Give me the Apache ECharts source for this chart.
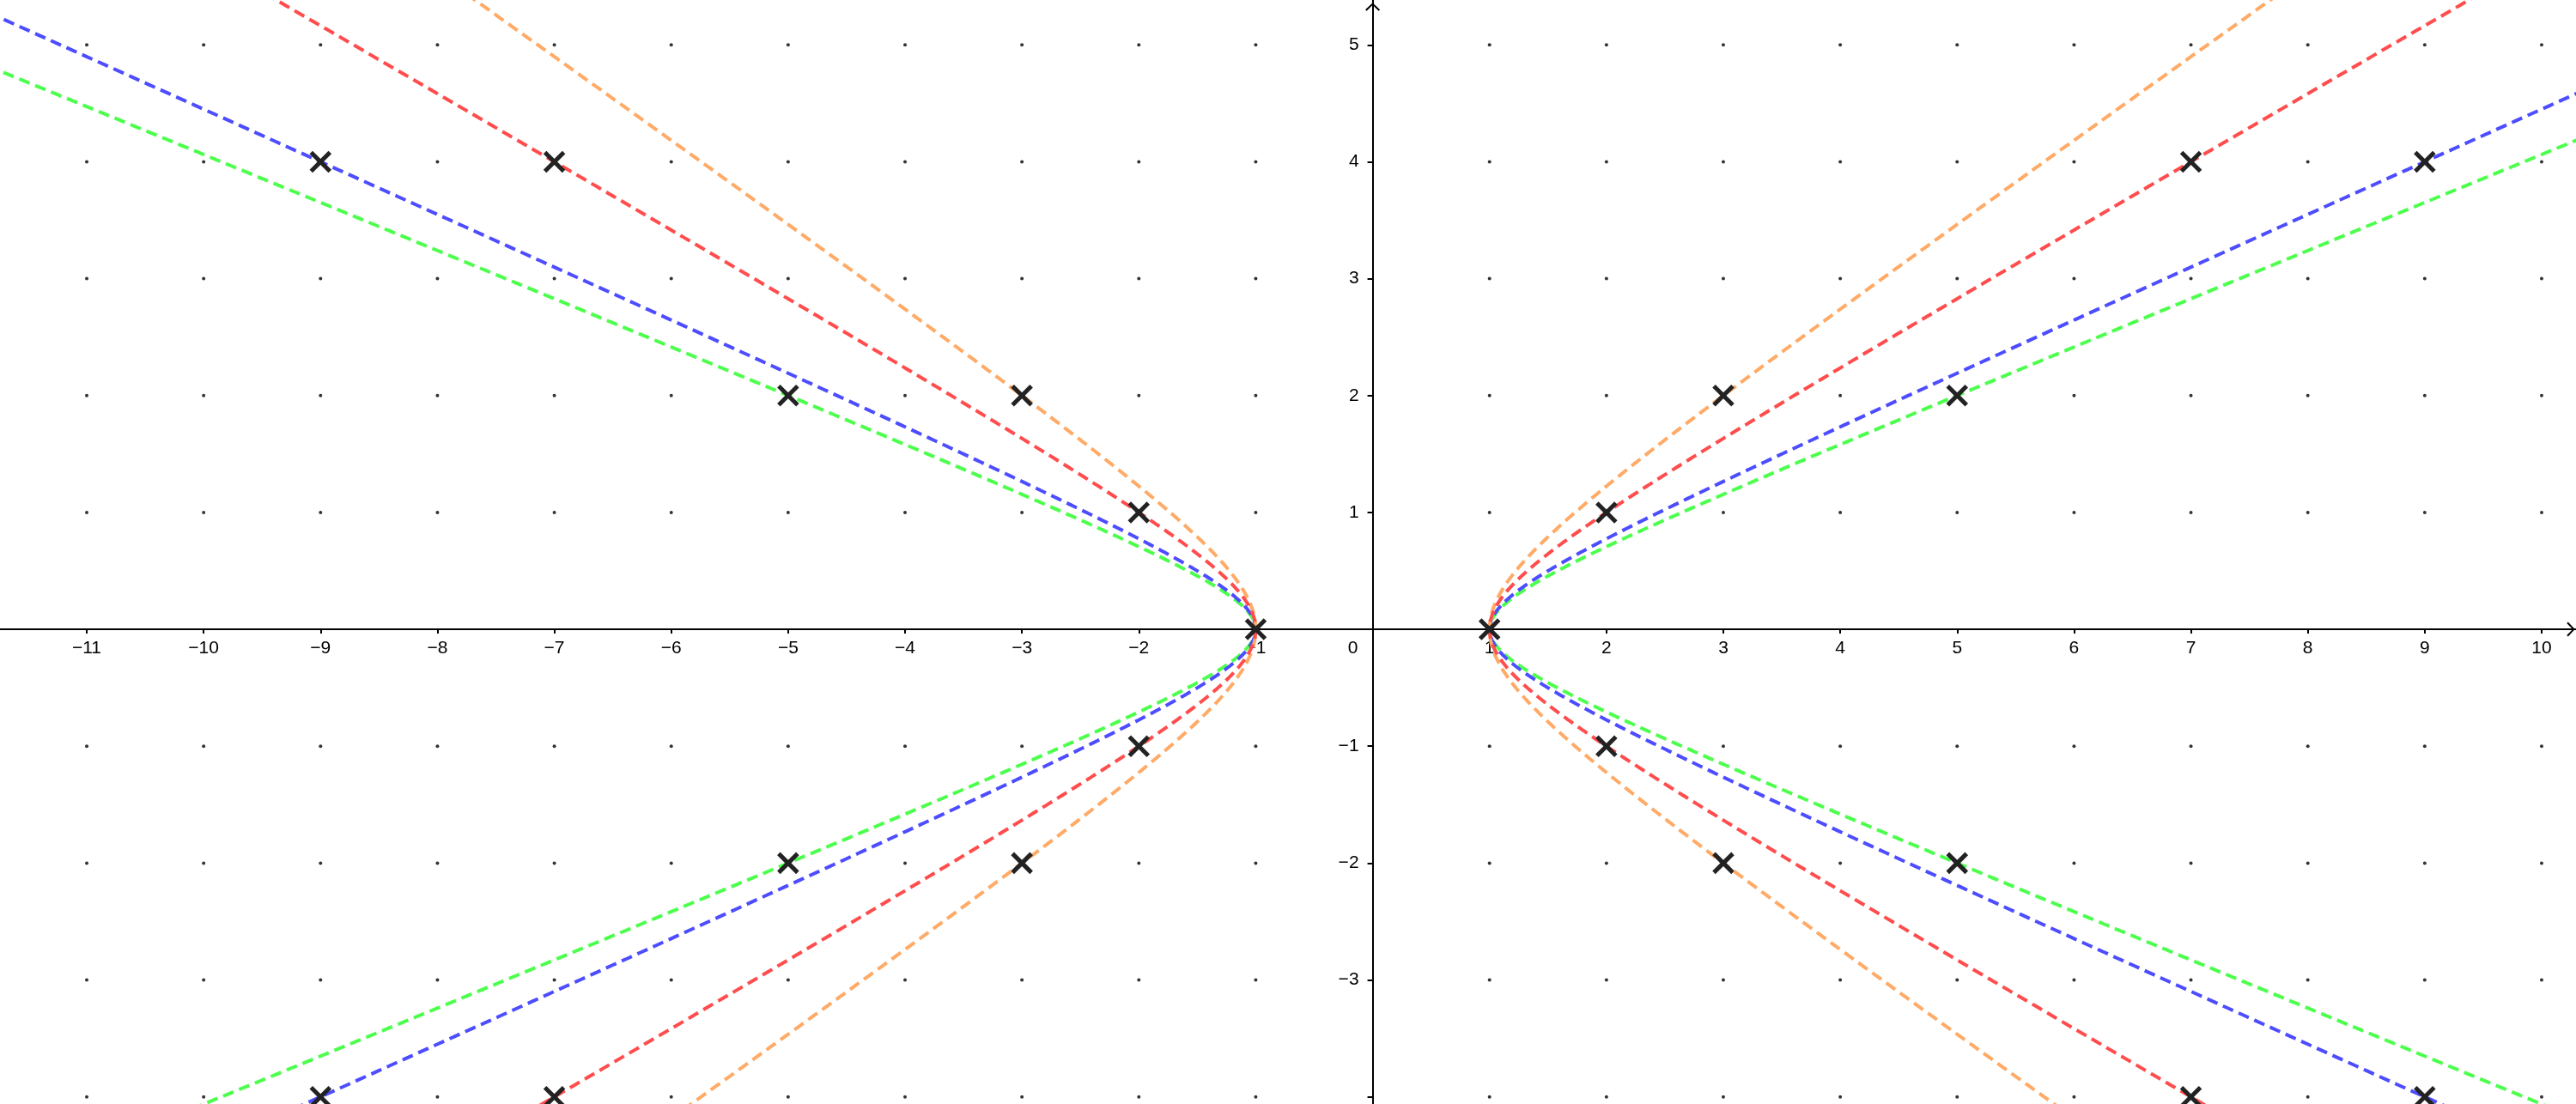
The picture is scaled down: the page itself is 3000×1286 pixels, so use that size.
<!DOCTYPE html>
<html>
<head>
<meta charset="utf-8">
<script src="https://cdn.jsdelivr.net/npm/echarts@6/dist/echarts.min.js"></script>
<style>
html,body{margin:0;padding:0;background:#fff;}
#chart{width:3000px;height:1286px;}
</style>
</head>
<body>
<div id="chart"></div>
<script>
// ---- data ----
var xTicks = [-11,-10,-9,-8,-7,-6,-5,-4,-3,-2,-1,0,1,2,3,4,5,6,7,8,9,10];
var yTicks = [-4,-3,-2,-1,1,2,3,4,5];
var yLabels = [-3,-2,-1,1,2,3,4,5];
// hyperbolas x^2 - d*y^2 = 1
var curveD = [6, 5, 2, 3];
var curveNames = ['x²−6y²=1','x²−5y²=1','x²−2y²=1','x²−3y²=1'];
var curveColors = ['#4dff4d','#4d4dff','#ffaa66','#ff4d4d'];
// marked integer solutions
var crossX = [-9,-7,-5,-3,-2,-1,1,2,3,5,7,9,-9,-7,-5,-3,-2,2,3,5,7,9];
var crossY = [4,4,2,2,1,0,0,1,2,2,4,4,-4,-4,-2,-2,-1,-1,-2,-2,-4,-4];

var X_MIN = -11.742, X_MAX = 10.294, Y_MIN = -4.061, Y_MAX = 5.384;
var W = 3000, H = 1286;

function branchPoints(d) {
  var pts = [], t, s = Math.sqrt(d);
  for (t = -3.4; t <= 3.4001; t += 0.01) pts.push([Math.cosh(t), Math.sinh(t) / s]);
  pts.push(null);
  for (t = -3.4; t <= 3.4001; t += 0.01) pts.push([-Math.cosh(t), Math.sinh(t) / s]);
  return pts;
}

var dots = [];
xTicks.forEach(function (x) {
  yTicks.forEach(function (y) { if (x !== 0) dots.push([x, y]); });
});

var crosses = crossX.map(function (x, i) { return [x, crossY[i]]; });

var arrowPath = 'path://M0,8 L8.5,0 L17,8 L15.5,9.5 L8.5,2.6 L1.5,9.5 Z';
var fontFam = '"Liberation Sans", Arial, sans-serif';

var series = [{
  type: 'scatter',
  data: dots,
  symbol: 'circle',
  symbolSize: 4,
  itemStyle: { color: '#000' },
  silent: true,
  z: 1
}];
curveD.forEach(function (d, i) {
  series.push({
    type: 'line',
    name: curveNames[i],
    data: branchPoints(d),
    showSymbol: false,
    connectNulls: false,
    smooth: false,
    clip: true,
    lineStyle: { color: curveColors[i], width: 4, type: [13, 7] },
    silent: true,
    z: 2 + i
  });
});
series.push({
  type: 'custom',
  data: crosses,
  z: 10,
  clip: false,
  renderItem: function (params, api) {
    var p = api.coord([api.value(0), api.value(1)]);
    var h = 11;
    var st = { stroke: '#222', lineWidth: 5 };
    return {
      type: 'group',
      children: [
        { type: 'line', shape: { x1: p[0]-h, y1: p[1]-h, x2: p[0]+h, y2: p[1]+h }, style: st },
        { type: 'line', shape: { x1: p[0]-h, y1: p[1]+h, x2: p[0]+h, y2: p[1]-h }, style: st }
      ]
    };
  }
});

var chart = echarts.init(document.getElementById('chart'), null, { renderer: 'canvas' });
chart.setOption({
  animation: false,
  backgroundColor: '#ffffff',
  grid: { left: 0, right: 0, top: 0, bottom: 0, containLabel: false, outerBoundsMode: 'none' },
  xAxis: {
    type: 'value',
    position: 'bottom',
    min: X_MIN, max: X_MAX,
    axisLine: { onZero: false, lineStyle: { color: '#000', width: 2 }, symbol: ['none', arrowPath], symbolSize: [17, 9.5], symbolOffset: [0, -6] },
    axisTick: { show: true, length: 5, customValues: xTicks, lineStyle: { color: '#000', width: 2 } },
    axisLabel: {
      customValues: xTicks,
      margin: 12,
      color: '#000',
      fontSize: 21,
      fontFamily: fontFam,
      formatter: function (v) {
        if (v === 0) return '{z|0}';
        return (v < 0 ? '\u2212' + Math.abs(v) : String(v));
      },
      rich: { z: { fontSize: 21, fontFamily: fontFam, color: '#000', padding: [0, 46, 0, 0] } }
    },
    splitLine: { show: false }
  },
  yAxis: {
    type: 'value',
    position: 'left',
    min: Y_MIN, max: Y_MAX,
    axisLine: { onZero: false, lineStyle: { color: '#000', width: 2 }, symbol: ['none', arrowPath], symbolSize: [17, 9.5], symbolOffset: [0, -8] },
    axisTick: { show: true, length: 6, customValues: yTicks, lineStyle: { color: '#000', width: 2 } },
    axisLabel: {
      customValues: yLabels,
      margin: 16,
      color: '#000',
      fontSize: 21,
      fontFamily: fontFam,
      formatter: function (v) { return (v < 0 ? '\u2212' + Math.abs(v) : String(v)); }
    },
    splitLine: { show: false }
  },
  series: series
});
// move axes to pass through the origin
var origin = chart.convertToPixel({ gridIndex: 0 }, [0, 0]);
chart.setOption({
  xAxis: { offset: -(H - origin[1]) },
  yAxis: { offset: -origin[0] }
});
</script>
</body>
</html>
